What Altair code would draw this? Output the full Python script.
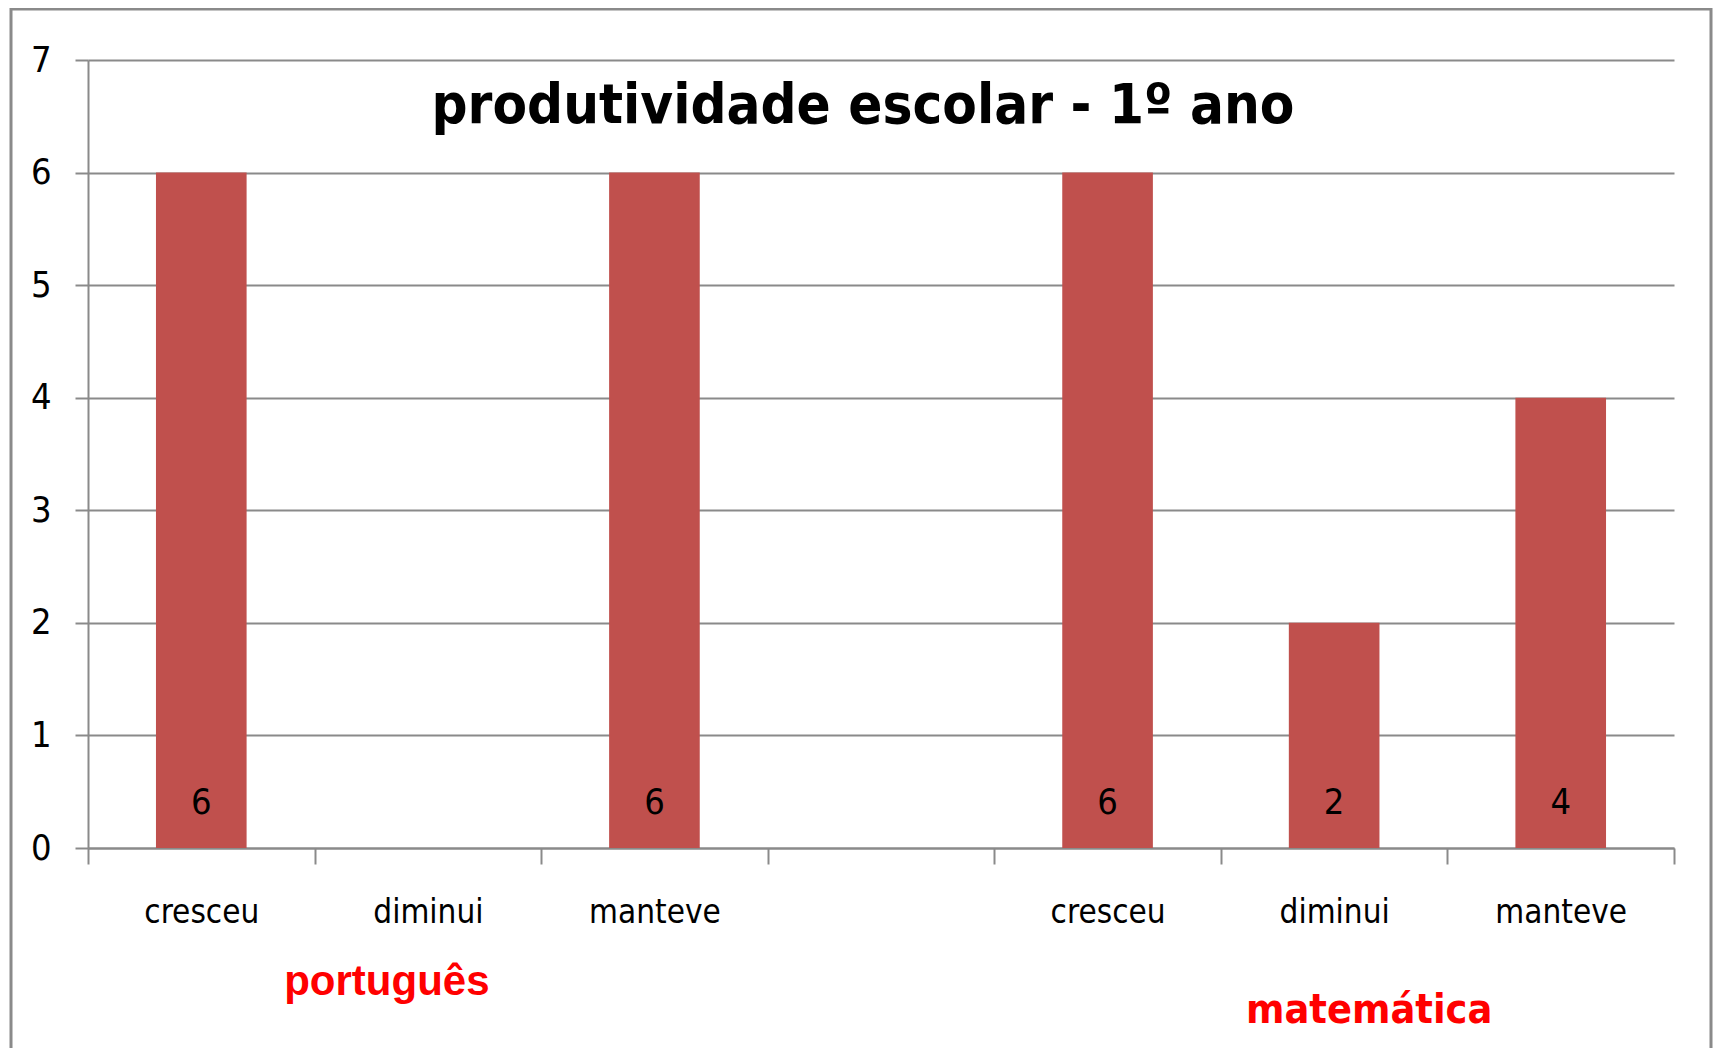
import altair as alt
import pandas as pd

# ---- data ----
keys = ["pt_cresceu", "pt_diminui", "pt_manteve", "gap", "mt_cresceu", "mt_diminui", "mt_manteve"]
tick_labels = ["cresceu", "diminui", "manteve", "", "cresceu", "diminui", "manteve"]
bar_keys = ["pt_cresceu", "pt_diminui", "pt_manteve", "mt_cresceu", "mt_diminui", "mt_manteve"]
values = [6, 0, 6, 6, 2, 4]
subjects = ["português", "matemática"]
subject_anchor = ["pt_diminui", "mt_diminui"]
title_text = "produtividade escolar - 1º ano"
y_ticks = [0, 1, 2, 3, 4, 5, 6, 7]

df = pd.DataFrame({"key": bar_keys, "value": values})
df_pt = pd.DataFrame({"key": [subject_anchor[0]], "label": [subjects[0]]})
df_mt = pd.DataFrame({"key": [subject_anchor[1]], "label": [subjects[1]]})

FONT = "DejaVu Sans Condensed, Roboto"
GRID = "#8a8a8a"
BAR = "#C0504D"

keys_js = "[" + ",".join(f"'{k}'" for k in keys) + "]"
labels_js = "[" + ",".join(f"'{v}'" for v in tick_labels) + "]"
label_expr = f"{labels_js}[indexof({keys_js}, datum.value)]"

xscale = alt.Scale(domain=keys, paddingInner=0, paddingOuter=0)
yscale = alt.Scale(domain=[0, 7], nice=False)

x_axis = alt.Axis(
    title=None, labelExpr=label_expr, labelAngle=0, tickBand="extent",
    tickSize=16, tickColor=GRID, tickWidth=2, domainColor=GRID, domainWidth=2,
    labelFont=FONT, labelFontSize=33, labelColor="black", labelPadding=32,
)
y_axis = alt.Axis(
    title=None, values=y_ticks, format="d", grid=True, gridColor=GRID, gridWidth=2,
    tickSize=13, tickColor=GRID, tickWidth=2, domainColor=GRID, domainWidth=2,
    labelFont=FONT, labelFontSize=36, labelColor="black", labelPadding=24,
)

bars = alt.Chart(df).mark_bar(color=BAR, width=alt.RelativeBandSize(0.4)).encode(
    x=alt.X("key:N", scale=xscale, axis=x_axis),
    y=alt.Y("value:Q", scale=yscale, axis=y_axis),
)

value_labels = alt.Chart(df).transform_filter("datum.value > 0").mark_text(
    font=FONT, fontSize=36, baseline="middle", dy=-45, color="black"
).encode(
    x=alt.X("key:N", scale=xscale),
    y=alt.datum(0),
    text="value:Q",
)

pt_label = alt.Chart(df_pt).mark_text(
    font="Liberation Sans", fontWeight="bold", fontSize=42, color="#FF0000",
    baseline="alphabetic", dx=-41,
).encode(
    x=alt.X("key:N", scale=xscale),
    y=alt.value(935),
    text="label:N",
)

mt_label = alt.Chart(df_mt).mark_text(
    font=FONT, fontWeight="bold", fontSize=41, color="#FF0000",
    baseline="alphabetic", dx=35,
).encode(
    x=alt.X("key:N", scale=xscale),
    y=alt.value(963),
    text="label:N",
)

title = alt.Chart(alt.Data(values=[{}])).mark_text(
    font=FONT, fontWeight="bold", fontSize=56, align="center",
    baseline="alphabetic", color="black",
).encode(
    x=alt.value(775), y=alt.value(63), text=alt.value(title_text)
)

border = alt.Chart(alt.Data(values=[{}])).mark_rect(
    filled=False, stroke="#8a8a8a", strokeWidth=3
).encode(
    x=alt.value(-77), x2=alt.value(1623), y=alt.value(-51), y2=alt.value(1100)
)

chart = alt.layer(border, bars, value_labels, pt_label, mt_label, title).properties(
    width=1586, height=788,
    padding={"left": 80, "top": 52, "right": 39, "bottom": 200},
    autosize=alt.AutoSizeParams(type="none"),
    background="white",
).configure_view(stroke=None)

chart.save("out.html", embed_options={"renderer": "svg", "actions": False})
